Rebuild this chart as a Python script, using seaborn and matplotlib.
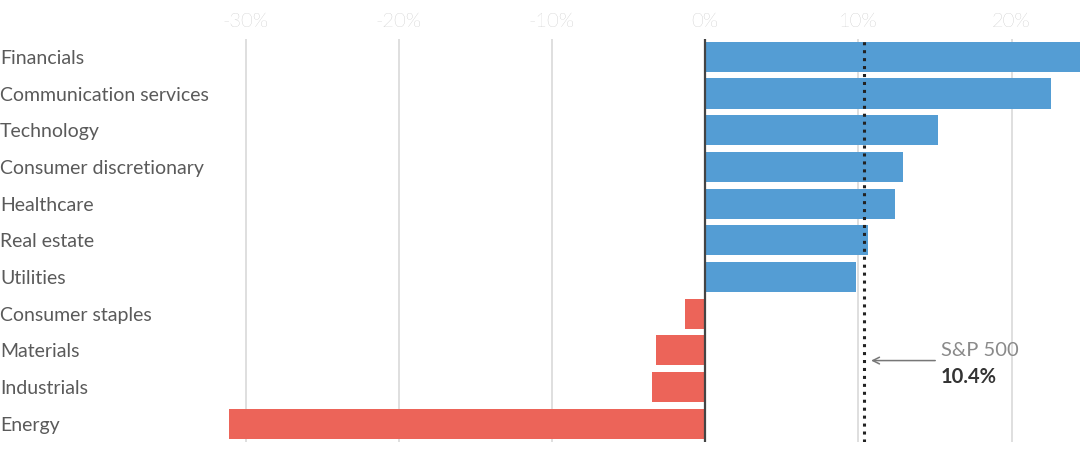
import matplotlib
matplotlib.use("Agg")
import matplotlib.pyplot as plt
import seaborn as sns
import pandas as pd

sectors = ["Financials", "Communication services", "Technology", "Consumer discretionary",
           "Healthcare", "Real estate", "Utilities", "Consumer staples", "Materials",
           "Industrials", "Energy"]
returns = [24.5, 22.6, 15.2, 12.9, 12.4, 10.6, 9.85, -1.3, -3.2, -3.5, -31.1]
sp500 = 10.4
tick_vals = [-30, -20, -10, 0, 10, 20]
tick_labels = ["-30%", "-20%", "-10%", "0%", "10%", "20%"]

BLUE = "#549dd4"
RED = "#ec6459"

sns.set_theme(style="white")
plt.rcParams["font.family"] = ["Lato", "DejaVu Sans"]

df = pd.DataFrame({"sector": sectors, "ret": returns})
df["sign"] = ["pos" if v >= 0 else "neg" for v in returns]

fig = plt.figure(figsize=(10.82, 4.53), dpi=100)
ax_left_px, ax_right_px = 215, 1082
ax_top_px, ax_bot_px = 38.5, 442
W, H = 1082, 453
ax = fig.add_axes([ax_left_px / W, 1 - ax_bot_px / H,
                   (ax_right_px - ax_left_px) / W, (ax_bot_px - ax_top_px) / H])

for x in tick_vals:
    if x != 0:
        ax.axvline(x, color="#d9d9d9", lw=1.2, zorder=0)

sns.barplot(data=df, x="ret", y="sector", hue="sign", palette={"pos": BLUE, "neg": RED},
            order=sectors, width=0.82, dodge=False, legend=False, ax=ax, zorder=2,
            edgecolor="none", saturation=1)

ax.axvline(0, color="#444444", lw=1.6, zorder=3)
ax.axvline(sp500, color="#222222", lw=2.2, ls=(0, (1, 1.6)), zorder=4)

ax.set_xlim(-32.0, 24.6)
ax.set_ylim(10.5, -0.5)
ax.set_xticks(tick_vals)
ax.set_xticklabels(tick_labels, fontweight="light")
ax.xaxis.tick_top()
ax.tick_params(axis="x", length=0, pad=5.5, labelsize=14.5, labelcolor="#a8a8a8")
ax.tick_params(axis="y", length=0, labelsize=14, labelcolor="#5a5a5a",
               pad=ax_left_px * 0.72)
for lab in ax.get_yticklabels():
    lab.set_horizontalalignment("left")
ax.set_xlabel("")
ax.set_ylabel("")
for s in ax.spines.values():
    s.set_visible(False)

ax.annotate("", xy=(sp500 + 0.25, 8.28), xytext=(sp500 + 4.8, 8.28),
            arrowprops=dict(arrowstyle="->", color="#777777", lw=1.1), zorder=5)
ax.text(sp500 + 5.0, 8.0, "S&P 500", color="#8a8a8a", fontsize=14.5,
        ha="left", va="center", zorder=5)
ax.text(sp500 + 5.0, 8.73, "10.4%", color="#333333", fontsize=14.5, fontweight="bold",
        ha="left", va="center", zorder=5)

fig.savefig("out.png", dpi=100, facecolor="white")
